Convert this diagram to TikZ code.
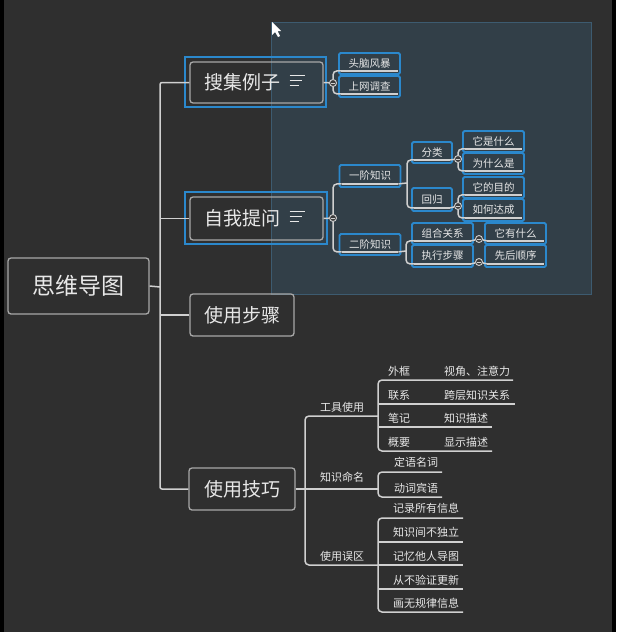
\documentclass[tikz,border=0pt]{standalone}
\usepackage{fontspec}
\newfontfamily\cjk{Noto Sans CJK SC}
\usetikzlibrary{calc}
\definecolor{bg}{HTML}{2F2F2F}
\definecolor{linec}{HTML}{D0D0D0}
\definecolor{boxc}{HTML}{A8A8A8}
\definecolor{selblue}{HTML}{2B88CC}
\definecolor{txt}{HTML}{E8E8E8}
\definecolor{selfill}{HTML}{323F48}
\definecolor{selline}{HTML}{3D5B70}
\definecolor{knobc}{HTML}{3C3C3C}

\tikzset{
  link/.style={draw=linec, line width=1.5pt, rounded corners=4pt},
  mainbox/.style={rectangle, draw=boxc, line width=1.3pt, rounded corners=3pt, text=txt, inner sep=0pt, minimum height=42pt, font=\cjk\fontsize{19}{22}\selectfont},
  selbox/.style={rectangle, draw=selblue, line width=2.2pt},
  leaf/.style={rectangle, draw=selblue, line width=1.8pt, rounded corners=1.5pt, text=txt, font=\cjk\fontsize{10.5}{12}\selectfont, minimum width=61pt, minimum height=21pt, inner sep=0pt},
  tip/.style={text=txt, font=\cjk\fontsize{11}{13}\selectfont, inner sep=0pt},
  uline/.style={draw=linec, line width=1.2pt},
  knob/.style={circle, draw=linec, line width=0.9pt, fill=knobc, minimum size=7pt, inner sep=0pt,
    path picture={\draw[linec, line width=0.8pt] ([xshift=-2pt]path picture bounding box.center) -- ([xshift=2pt]path picture bounding box.center);}}
}

% leaf in a blue box, with its underline ends named -u and -v
\newcommand{\leafnode}[5][]{%
  \node(#2) [leaf, #1] at (#3,#4) {#5};
  \draw[uline] ($(#2.south west)+(3,-4)$) coordinate (#2-u) -- ($(#2.south east)+(-3,-4)$) coordinate (#2-v);
}

\begin{document}
\begin{tikzpicture}[x=1pt, y=-1pt]
  \fill[bg] (0,0) rectangle (616,632);
  \fill[black] (0,0) rectangle (4,632);
  \fill[black] (612,0) rectangle (616,632);
  \useasboundingbox (0,0) rectangle (616,632);

  % selection area
  \fill[selfill] (271,22) rectangle (591,294);
  \draw[selline, line width=0.8pt] (271,22) rectangle (591,294);

  \node(root) [mainbox, minimum width=141pt, minimum height=56pt, font=\cjk\fontsize{23}{26}\selectfont] at (78.5,286) {思维导图};

  \node(sjo) [selbox, minimum width=141pt, minimum height=50pt] at (255.5,82) {};
  \node(sj) [mainbox, minimum width=133pt, minimum height=41pt] at (256.5,82.5) {搜集例子\rule{28pt}{0pt}};
  \node(zwo) [selbox, minimum width=142pt, minimum height=52pt] at (256,218) {};
  \node(zw) [mainbox, minimum width=133pt, minimum height=43pt] at (256.5,218.5) {自我提问\rule{28pt}{0pt}};
  \node(bz) [mainbox, minimum width=104pt] at (242,315) {使用步骤};
  \node(jq) [mainbox, minimum width=106pt] at (242,489) {使用技巧};

  \foreach \b in {sj, zw}
    \foreach \l/\dy in {15/-5, 12/0, 9/5}
      \draw[draw=txt, line width=1.2pt] ($(\b.east)+(-34,\dy-2)$) -- ++(\l,0);

  \coordinate (t) at (160,287);
  \draw[link, rounded corners=2pt] (sj.west) -| (t) |- (jq.west);
  \draw[link] (root.east) -- (t);
  \draw[link] (zw.west) -- (zw.west -| t);
  \draw[link] (bz.west) -- (bz.west -| t);

  % 搜集例子
  \leafnode{tn}{369.5}{63.5}{头脑风暴}
  \leafnode{sw}{369.5}{86.5}{上网调查}
  \node(k1) [knob] at (333,83) {};
  \draw[link] (sj.east) -- (k1);
  \draw[link] (k1) |- (tn-u);
  \draw[link] (k1) |- (sw-u);

  % 自我提问
  \leafnode[minimum height=22pt]{yj}{370}{176}{一阶知识}
  \leafnode{ej}{370}{244.5}{二阶知识}
  \node(k2) [knob] at (333,218) {};
  \draw[link] (zw.east) -- (k2);
  \draw[link] (k2) |- (yj-u);
  \draw[link] (k2) |- (ej-u);

  \leafnode[minimum width=40pt]{fl}{432}{152.5}{分类}
  \leafnode[minimum width=40pt, minimum height=23pt]{hg}{432}{199.5}{回归}
  \coordinate (j3) at (407,183);
  \draw[link] (yj-v) -- (j3);
  \draw[link] (fl-u) -- (fl-u -| j3) -- (hg-u -| j3) -- (hg-u);

  \leafnode{ss}{493.5}{141.5}{它是什么}
  \leafnode{ws}{493.5}{163.5}{为什么是}
  \leafnode{td}{493.5}{187.5}{它的目的}
  \leafnode[minimum height=22pt]{rh}{493.5}{210}{如何达成}
  \node(kfl) [knob] at (458,159) {};
  \node(khg) [knob] at (458,206) {};
  \draw[link] (fl-v) -- (kfl);
  \draw[link] (kfl) |- (ss-u);
  \draw[link] (kfl) |- (ws-u);
  \draw[link] (hg-v) -- (khg);
  \draw[link] (khg) |- (td-u);
  \draw[link] (khg) |- (rh-u);

  \leafnode{zh}{442.5}{233.5}{组合关系}
  \leafnode[minimum height=22pt]{zx}{442.5}{256}{执行步骤}
  \coordinate (j4) at (406,251);
  \draw[link] (ej-v) -- (j4);
  \draw[link] (zh-u) -- (zh-u -| j4) -- (zx-u -| j4) -- (zx-u);

  \leafnode{yy}{515.5}{233.5}{它有什么}
  \leafnode[minimum height=22pt]{xh}{515.5}{256}{先后顺序}
  \node(kzh) [knob] at (479,239) {};
  \node(kzx) [knob] at (479,262) {};
  \draw[link] (zh-v) -- (kzh) -- (yy-u);
  \draw[link] (zx-v) -- (kzx) -- (xh-u);

  % 使用技巧
  \node(gj) [tip] at (342,407) {工具使用};
  \node(zm) [tip] at (342,477) {知识命名};
  \node(wq) [tip] at (342,556) {使用误区};
  \coordinate (h) at (305,489);
  \coordinate (gjl) at (378,416);
  \coordinate (zml) at (378,489);
  \coordinate (wql) at (378,565);
  \draw[link] (jq.east) -- (h);
  \draw[link] (gjl) -| (h) |- (wql);
  \draw[link] (h) -- (zml);

  \node(wk) [tip] at (399,371) {外框};
  \node(wk2) [tip] at (477,371) {视角、注意力};
  \node(lx) [tip] at (399,395) {联系};
  \node(lx2) [tip] at (477,395) {跨层知识关系};
  \node(bj) [tip] at (399,418) {笔记};
  \node(bj2) [tip] at (466,418) {知识描述};
  \node(gy) [tip] at (399,442) {概要};
  \node(gy2) [tip] at (466,442) {显示描述};
  \draw[link] (513,380) -- (378,380) -- (378,451) -- (492,451);
  \draw[link] (378,404) -- (515,404);
  \draw[link] (378,427) -- (492,427);

  \node(dy) [tip] at (416,462) {定语名词};
  \node(dc) [tip] at (416,488) {动词宾语};
  \draw[link] (442,472) -- (378,472) -- (378,497) -- (442,497);

  \node(c1) [tip] at (426,508) {记录所有信息};
  \node(c2) [tip] at (426,532) {知识间不独立};
  \node(c3) [tip] at (426,556) {记忆他人导图};
  \node(c4) [tip] at (426,580) {从不验证更新};
  \node(c5) [tip] at (426,603) {画无规律信息};
  \draw[link] (463,518) -- (378,518) -- (378,612) -- (463,612);
  \foreach \y in {542,565,589}
    \draw[link] (378,\y) -- (463,\y);

  % pointer
  \fill[white] (272,22) -- (272,35) -- (275,32) -- (278,37) -- (280,36) -- (277.5,31) -- (281,31) -- cycle;
\end{tikzpicture}
\end{document}
